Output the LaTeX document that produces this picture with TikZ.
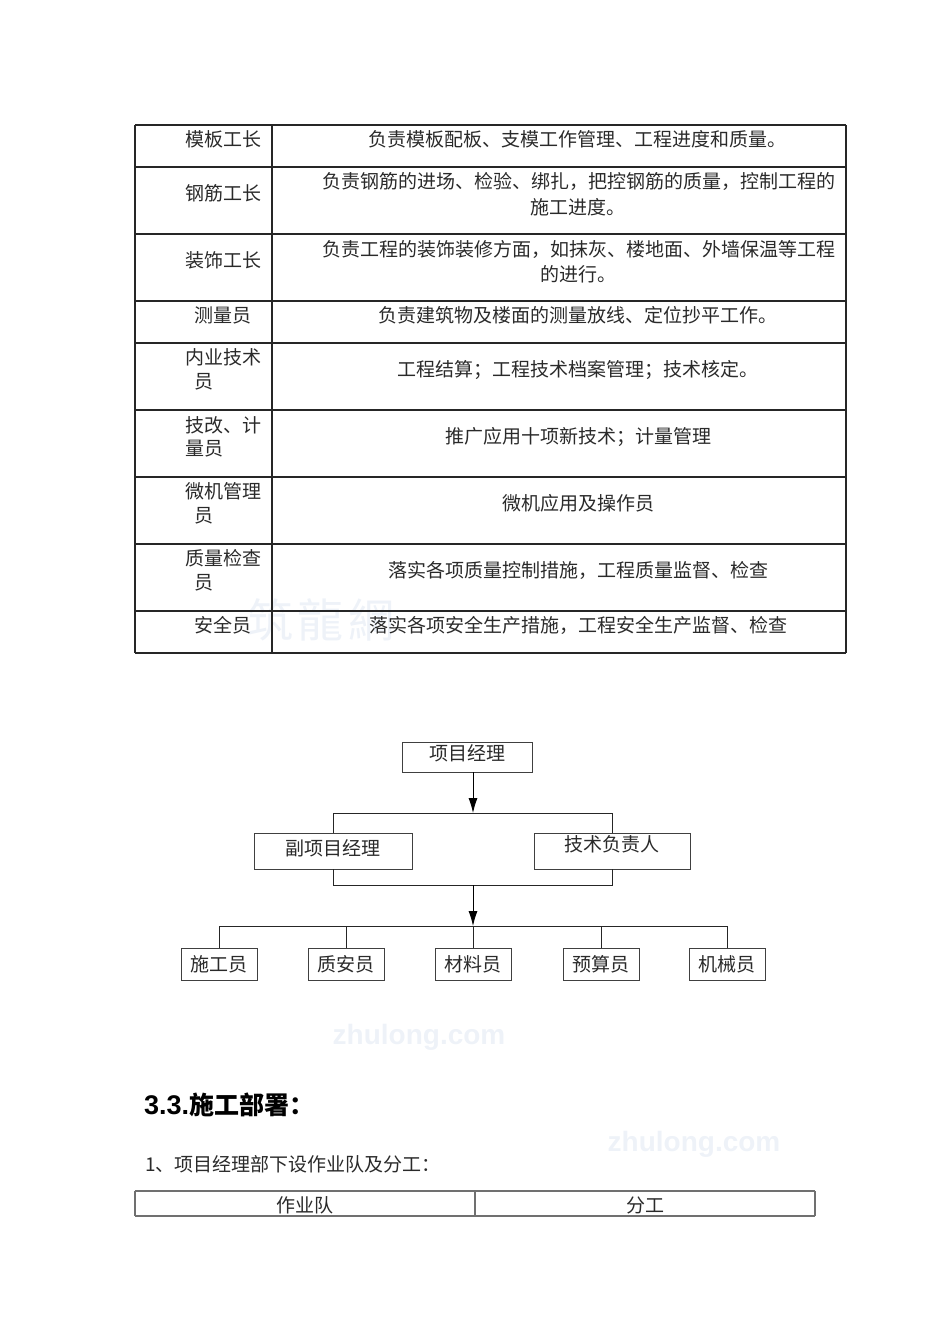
\documentclass[tikz,border=0pt]{standalone}
\usepackage{fontspec}
\setmainfont{Noto Sans CJK SC}
\newfontfamily\latinbold{Liberation Sans}[BoldFont={Liberation Sans Bold}]
\usetikzlibrary{arrows.meta}
\definecolor{inkgray}{HTML}{2A2A2A}
\definecolor{rulegray}{HTML}{707070}
\definecolor{markblue}{HTML}{EEF2F8}
\newcommand{\boxtext}[2]{\raisebox{#1}[0pt][0pt]{#2}}

\begin{document}
\begin{tikzpicture}
  [x=1pt, y=-1pt,
   every node/.style={text=inkgray, font=\fontsize{19}{19}\selectfont, inner sep=0pt},
   tabline/.style={draw=black!85, line width=1.3pt},
   thinline/.style={draw=rulegray, line width=1.2pt},
   orgbox/.style={draw=black!75, line width=0.9pt, fill=white, minimum height=32pt},
   orgline/.style={draw=black!85, line width=0.9pt},
   orgarrow/.style={orgline, -{Latex[length=15pt,width=9pt]}, black},
   sitemark/.style={text=markblue, font=\fontsize{28}{28}\selectfont\latinbold\bfseries}]

   \useasboundingbox (0,0) rectangle (950,1344);

   %Faint marks behind everything
   \node[text=markblue, font=\fontsize{46}{46}\selectfont] (markA) at (321,620) {筑\hspace{5pt}龍\hspace{5pt}網};
   \node[sitemark] (markB) at (419,1037) {zhulong.com};
   \node[sitemark] (markC) at (694,1144) {zhulong.com};

   %Draw duty table
   \foreach \y in {125,167,234,301,343,410,477,544,611,653}
     \draw[tabline] (135,\y) -- (846,\y);
   \foreach \x in {135,272,846}
     \draw[tabline] (\x,125) -- (\x,653);

   %Left column, one node per printed line
   \foreach \i/\x/\y/\txt in {1/223/139/模板工长, 2/223/193/钢筋工长, 3/223/260/装饰工长, 4/223/315/测量员,
       5/223/357/内业技术, 6/204/382/员, 7/223/425/技改、计, 8/204/449/量员,
       9/223/491/微机管理, 10/204/516/员, 11/223/558/质量检查, 12/204/583/员, 13/223/625/安全员}
     \node (L\i) at (\x,\y) {\txt};

   %Right column
   \foreach \i/\x/\y/\txt in {1/577/139/负责模板配板、支模工作管理、工程进度和质量。,
       2/579/181/负责钢筋的进场、检验、绑扎，把控钢筋的质量，控制工程的, 3/578/207/施工进度。,
       4/579/249/负责工程的装饰装修方面，如抹灰、楼地面、外墙保温等工程, 5/578/274/的进行。,
       6/578/315/负责建筑物及楼面的测量放线、定位抄平工作。,
       7/578/370/工程结算；工程技术档案管理；技术核定。,
       8/578/437/推广应用十项新技术；计量管理,
       9/578/503/微机应用及操作员,
       10/578/570/落实各项质量控制措施，工程质量监督、检查,
       11/578/625/落实各项安全生产措施，工程安全生产监督、检查}
     \node (R\i) at (\x,\y) {\txt};

   %Draw org chart
   \node[orgbox, minimum width=130pt, minimum height=30pt] (pm) at (467,757) {\boxtext{-3pt}{项目经理}};
   \node[orgbox, minimum width=158pt, minimum height=36pt] (vice) at (333,851) {\boxtext{-4pt}{副项目经理}};
   \node[orgbox, minimum width=156pt, minimum height=36pt] (tech) at (612,851) {\boxtext{0pt}{技术负责人}};
   \foreach \n/\x/\txt in {a/219/施工员, b/346/质安员, c/473/材料员, d/601/预算员, e/727/机械员}
     \node[orgbox, minimum width=76pt] (w\n) at (\x,964) {\boxtext{-7pt}{\txt}};

   \coordinate (top) at (473,813);
   \coordinate (mid) at (473,885);
   \coordinate (bus) at (473,926);
   \draw[orgarrow] (pm.south -| top) -- (top);
   \draw[orgline] (vice.north) |- (top) -| (tech.north);
   \draw[orgline] (vice.south) |- (mid) -| (tech.south);
   \draw[orgarrow] (mid) -- (bus);
   \draw[orgline] (wa.north) |- (bus) -| (we.north);
   \foreach \n in {b,c,d}
     \draw[orgline] (bus -| w\n.north) -- (w\n.north);

   %Heading and intro line
   \node[anchor=west, font=\fontsize{25}{25}\selectfont\bfseries, text=black] (head) at (144,1105)
     {{\latinbold\fontsize{27}{27}\selectfont\bfseries 3.3.}施工部署：};
   \node[anchor=west] (intro) at (145,1164) {1、项目经理部下设作业队及分工：};

   %Second table
   \foreach \y in {1191,1216}
     \draw[thinline] (135,\y) -- (815,\y);
   \foreach \x in {135,475,815}
     \draw[thinline] (\x,1191) -- (\x,1216);
   \node (team) at (305,1205) {作业队};
   \node (work) at (645,1205) {分工};
\end{tikzpicture}
\end{document}
